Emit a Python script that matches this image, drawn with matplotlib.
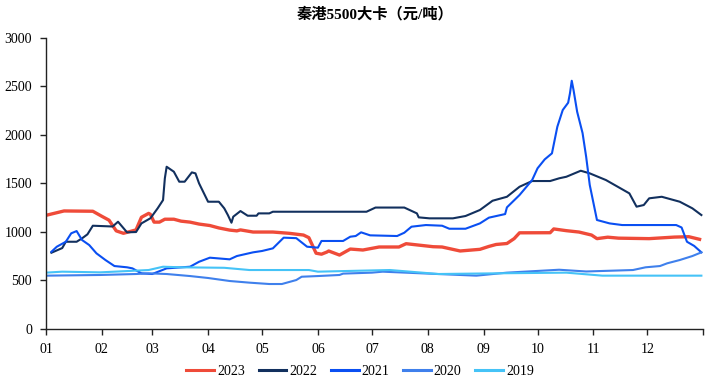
import matplotlib
matplotlib.use("Agg")
import matplotlib.pyplot as plt
import pandas as pd

plt.rcParams['font.family'] = ['Liberation Serif', 'Noto Sans CJK SC']

# ---------------------------------------------------------------- data
d2023 = ["01-01", "01-11", "01-27", "02-01", "02-05", "02-09", "02-13", "02-16", "02-20",
         "02-23", "02-27", "02-28", "03-02", "03-05", "03-08", "03-13", "03-17", "03-22",
         "03-27", "04-02", "04-07", "04-13", "04-17", "04-19", "04-26", "05-07", "05-16",
         "05-24", "05-27", "05-31", "06-03", "06-06", "06-07", "06-13", "06-19", "06-26",
         "07-05", "07-16", "07-20", "08-04", "08-09", "08-19", "08-30", "09-04", "09-08",
         "09-14", "09-18", "09-21", "10-08", "10-10", "10-17", "10-24", "10-31", "11-03",
         "11-09", "11-15", "12-02", "12-16", "12-24", "12-30"]
v2023 = [1170, 1215, 1212, 1160, 1120, 1010, 985, 1000, 1020,
         1150, 1190, 1180, 1100, 1100, 1130, 1130, 1110, 1100,
         1080, 1065, 1040, 1018, 1010, 1020, 998, 998, 985,
         967, 940, 780, 770, 792, 803, 761, 823, 813,
         844, 844, 878, 847, 844, 803, 820, 850, 870,
         880, 930, 990, 991, 1030, 1012, 998, 967, 930,
         945, 935, 930, 946, 950, 923]

d2022 = ["01-04", "01-10", "01-12", "01-18", "01-21", "01-24", "01-27", "02-07", "02-10",
         "02-15", "02-20", "02-23", "02-28", "03-04", "03-07", "03-08", "03-09", "03-13",
         "03-16", "03-19", "03-23", "03-25", "03-27", "04-01", "04-07", "04-10", "04-12",
         "04-14", "04-15", "04-19", "04-23", "04-28", "04-29", "05-05", "05-07", "06-28",
         "07-03", "07-19", "07-26", "07-27", "08-02", "08-15", "08-22", "08-30", "09-06",
         "09-14", "09-21", "09-28", "10-08", "10-13", "10-17", "10-25", "10-30", "11-08",
         "11-21", "11-25", "11-29", "12-02", "12-09", "12-19", "12-26", "12-31"]
v2022 = [785, 833, 898, 898, 933, 974, 1063, 1055, 1104,
         995, 998, 1087, 1140, 1242, 1327, 1551, 1670, 1619,
         1516, 1516, 1612, 1602, 1499, 1310, 1310, 1242, 1173,
         1094, 1156, 1214, 1166, 1166, 1190, 1190, 1207, 1207,
         1250, 1250, 1190, 1149, 1139, 1139, 1163, 1225, 1320,
         1361, 1464, 1523, 1523, 1551, 1567, 1629, 1602, 1533,
         1396, 1259, 1276, 1345, 1361, 1310, 1242, 1173]

d2021 = ["01-04", "01-07", "01-12", "01-15", "01-18", "01-21", "01-25", "01-29", "02-03",
         "02-08", "02-15", "02-18", "02-23", "03-01", "03-09", "03-22", "03-27", "04-02",
         "04-13", "04-17", "04-26", "05-01", "05-07", "05-13", "05-20", "05-26", "06-01",
         "06-03", "06-15", "06-19", "06-22", "06-25", "06-30", "07-15", "07-19", "07-23",
         "07-31", "08-09", "08-13", "08-22", "08-30", "09-04", "09-13", "09-14", "09-21",
         "09-28", "10-01", "10-05", "10-09", "10-12", "10-15", "10-18", "10-19", "10-20",
         "10-21", "10-23", "10-26", "10-28", "10-30", "11-03", "11-10", "11-17", "12-17",
         "12-20", "12-23", "12-27", "12-31"]
v2021 = [795, 847, 898, 985, 1008, 916, 864, 779, 710,
         648, 635, 624, 573, 566, 624, 641, 692, 734,
         717, 751, 789, 803, 830, 940, 935, 847, 837,
         906, 906, 950, 957, 995, 964, 957, 991, 1053,
         1070, 1063, 1032, 1032, 1087, 1146, 1183, 1252, 1379,
         1533, 1654, 1746, 1808, 2082, 2254, 2329, 2425, 2555,
         2459, 2236, 2017, 1773, 1482, 1122, 1087, 1070, 1070,
         1045, 898, 855, 789]

d2020 = ["01-01", "01-31", "02-20", "02-27", "03-09", "03-22", "04-01", "04-13", "04-24",
         "05-05", "05-12", "05-20", "05-23", "06-01", "06-13", "06-15", "07-01", "07-07",
         "07-26", "08-28", "09-14", "10-13", "10-28", "11-23", "11-30", "12-08", "12-12",
         "12-19", "12-26", "12-31"]
v2020 = [549, 556, 566, 573, 566, 545, 525, 494, 477,
         463, 463, 504, 538, 545, 556, 570, 580, 590,
         575, 549, 580, 610, 592, 607, 635, 648, 676,
         710, 751, 789]

d2019 = ["01-01", "01-10", "01-31", "02-27", "03-07", "03-17", "04-10", "04-24", "05-27",
         "06-01", "06-24", "07-11", "08-07", "09-08", "10-17", "11-06", "12-31"]
v2019 = [580, 590, 583, 607, 641, 635, 630, 607, 607,
         590, 600, 607, 566, 573, 580, 549, 549]

series = [("2023", d2023, v2023, "#ef4b39", 2.4),
          ("2022", d2022, v2022, "#12305e", 1.5),
          ("2021", d2021, v2021, "#0a4ff2", 1.5),
          ("2020", d2020, v2020, "#3f80ec", 1.5),
          ("2019", d2019, v2019, "#45c3f7", 1.5)]

months = ["01", "02", "03", "04", "05", "06", "07", "08", "09", "10", "11", "12"]

# ---------------------------------------------------------------- plot
fig = plt.figure(figsize=(7.19, 3.83), dpi=100)
ax = fig.add_axes([0.064, 0.141, 0.914, 0.761])

for name, days, vals, col, lw in series:
    x = pd.to_datetime(["2023-" + d for d in days])
    ax.plot(x, vals, color=col, lw=lw, label=name, solid_joinstyle="round")

ax.set_ylim(0, 3000)
ax.set_yticks(range(0, 3001, 500))
ax.set_xlim(pd.Timestamp("2023-01-01"), pd.Timestamp("2024-01-01"))
ticks = list(pd.date_range("2023-01-01", "2024-01-01", freq="MS"))
ax.set_xticks(ticks)
ax.set_xticklabels(months + [""])

for s in ["top", "right"]:
    ax.spines[s].set_visible(False)
for s in ["left", "bottom"]:
    ax.spines[s].set_color("#222222")
    ax.spines[s].set_linewidth(1.0)
ax.tick_params(axis="both", direction="out", length=4, width=1.0,
               labelsize=10, color="#222222", pad=6)

ax.set_title("秦港5500大卡（元/吨）", fontsize=11, fontweight="bold", pad=14)

leg = ax.legend(loc="center", bbox_to_anchor=(0.478, -0.145), ncol=5,
                frameon=False, fontsize=10, handlelength=2.0, handletextpad=0.2,
                columnspacing=1.0)
for h in leg.get_lines():
    h.set_linewidth(2.2)

fig.savefig("out.png", dpi=100)
